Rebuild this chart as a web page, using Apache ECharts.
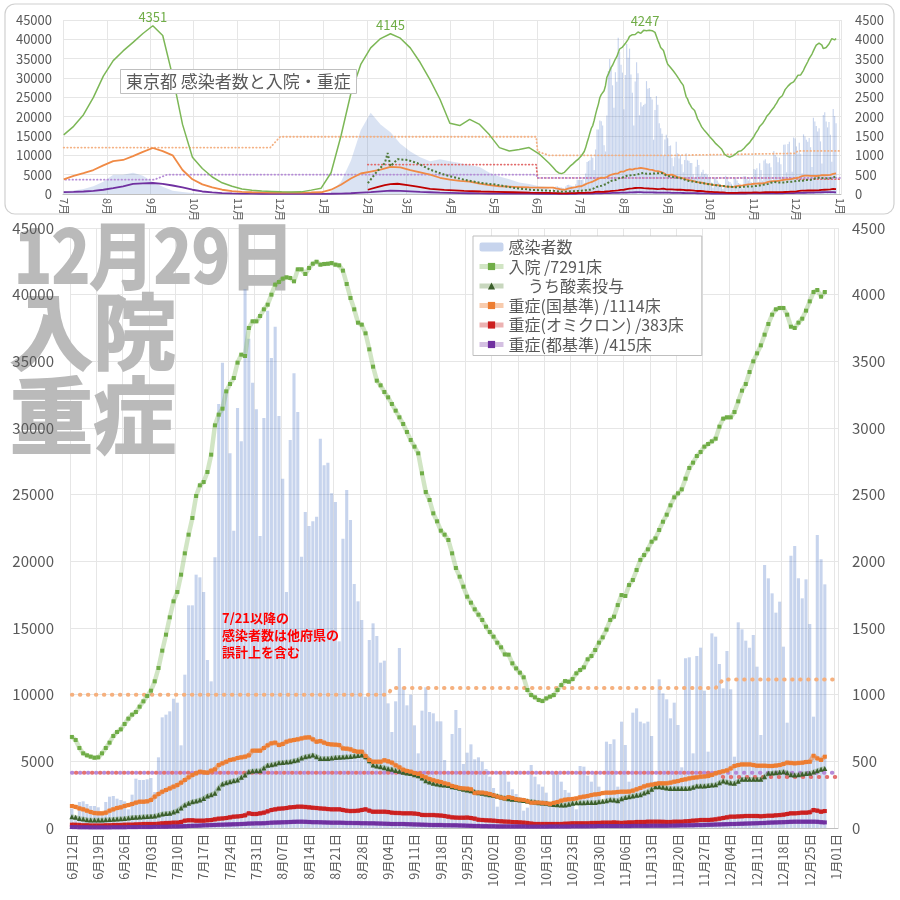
<!DOCTYPE html>
<html>
<head>
<meta charset="utf-8">
<script src="https://cdn.jsdelivr.net/npm/echarts@6/dist/echarts.min.js"></script>
<style>html,body{margin:0;background:#fff}#c{width:900px;height:900px}</style>
</head>
<body>
<div id="c"></div>
<script>
/* 東京都 感染者数と入院・重症 — main panel (daily from 2022-06-12) + inset overview since 2021-07 */
const FONT = '"Noto Sans CJK JP", "Noto Sans", sans-serif';
const TXT = '#595959';
const BIG = '#bababa';

// ---- main panel, one value per day from 6/12 ----
const cases = [
  1450, 900, 1950, 2000, 1800, 1650, 1650, 1550, 1000, 1950,
  2350, 2400, 2200, 2100, 2000, 1400, 2500, 3700, 3600, 3600,
  3650, 3750, 2700, 5300, 8300, 8500, 8750, 9700, 9400, 6200,
  11500, 16700, 16700, 19000, 18800, 17700, 12600, 11000, 20300, 31800,
  34900, 32700, 28100, 22300, 31500, 29000, 40400, 36700, 33400, 31400,
  21900, 30750, 38800, 35250, 37600, 30900, 26200, 17700, 29100, 34100,
  31200, 20350, 23700, 22650, 23000, 23350, 29200, 27200, 27400, 25100,
  24450, 14000, 21700, 25350, 23100, 18300, 17000, 15600, 9850, 14100,
  15350, 14400, 12400, 12550, 9350, 7200, 9500, 13500, 10550, 9200,
  10000, 7700, 5600, 8800, 10550, 8700, 8600, 8000, 8000, 5100,
  4100, 7050, 8850, 7500, 4800, 5650, 6275, 5150, 5300, 4975,
  4425, 3850, 3000, 1600, 4100, 4175, 3475, 2900, 2550, 2300,
  1300, 1525, 4725, 3850, 3275, 3100, 2650, 1800, 4150, 4100,
  3475, 2850, 2650, 2200, 1400, 4650, 4600, 3925, 3475, 4100,
  3100, 1900, 6475, 6300, 6650, 3100, 7975, 6225, 3475, 8650,
  8975, 7975, 7850, 7975, 6900, 3500, 11150, 10100, 9650, 8225,
  9400, 7725, 4550, 12725, 12800, 5600, 12900, 13525, 10300, 5725,
  14600, 14350, 12300, 10475, 13275, 10400, 5350, 15425, 14900, 14050,
  13525, 14475, 12100, 6975, 19725, 18725, 17600, 16150, 16975, 13600,
  7900, 20425, 21150, 18725, 17225, 18650, 15300, 8350, 21975, 20150,
  18275
];
const hosp = [
  683, 660, 600, 560, 545, 535, 527, 530, 560, 600,
  640, 690, 720, 740, 780, 820, 850, 870, 910, 950,
  990, 1030, 1100, 1200, 1330, 1450, 1580, 1700, 1770, 1900,
  2060, 2200, 2325, 2490, 2570, 2595, 2670, 2800, 3020, 3100,
  3145, 3275, 3330, 3375, 3490, 3550, 3540, 3750, 3800, 3800,
  3840, 3890, 3925, 4000, 4075, 4095, 4120, 4130, 4125, 4100,
  4190, 4190, 4155, 4200, 4232, 4247, 4225, 4230, 4232, 4237,
  4225, 4220, 4180, 4080, 3975, 3890, 3790, 3775, 3710, 3590,
  3460, 3355, 3320, 3270, 3230, 3180, 3130, 3080, 3030, 2970,
  2910, 2860, 2810, 2660, 2520, 2460, 2360, 2300, 2230, 2200,
  2160, 2060, 1950, 1885, 1810, 1735, 1690, 1640, 1600, 1560,
  1510, 1470, 1435, 1390, 1355, 1302, 1300, 1235, 1197, 1165,
  1130, 1035, 997, 980, 960, 952, 972, 985, 997, 1035,
  1072, 1102, 1097, 1117, 1160, 1185, 1205, 1265, 1290, 1335,
  1390, 1430, 1488, 1560, 1585, 1672, 1747, 1740, 1822, 1860,
  1935, 2010, 2047, 2090, 2147, 2172, 2235, 2297, 2350, 2420,
  2480, 2510, 2540, 2620, 2700, 2740, 2790, 2820, 2860, 2880,
  2900, 2920, 3010, 3070, 3080, 3080, 3120, 3200, 3280, 3330,
  3420, 3500, 3560, 3620, 3700, 3780, 3850, 3890, 3900, 3900,
  3850, 3760, 3750, 3790, 3820, 3880, 3950, 4020, 4035, 3985,
  4020
];
const oxygen = [
  85, 80, 72, 68, 62, 60, 60, 60, 60, 62,
  64, 65, 68, 70, 72, 75, 78, 80, 82, 85,
  87, 88, 90, 97, 105, 108, 110, 120, 130, 150,
  172, 185, 197, 202, 210, 222, 240, 250, 260, 300,
  330, 340, 347, 355, 360, 380, 397, 422, 428, 430,
  430, 450, 470, 475, 480, 490, 492, 495, 497, 505,
  510, 525, 535, 540, 547, 535, 522, 522, 522, 525,
  528, 530, 532, 535, 537, 540, 543, 547, 535, 505,
  472, 465, 460, 452, 445, 440, 432, 425, 418, 412,
  408, 400, 392, 375, 355, 345, 335, 330, 325, 322,
  318, 310, 305, 298, 290, 285, 280, 272, 265, 260,
  255, 250, 245, 240, 232, 225, 220, 216, 213, 210,
  207, 203, 198, 195, 190, 188, 185, 180, 177, 174,
  172, 172, 178, 185, 190, 190, 190, 191, 192, 192,
  196, 200, 205, 212, 210, 205, 220, 228, 235, 240,
  245, 250, 262, 272, 290, 310, 310, 305, 300, 297,
  297, 297, 297, 297, 298, 305, 315, 315, 315, 318,
  322, 325, 340, 352, 345, 338, 335, 350, 365, 365,
  365, 365, 365, 365, 385, 410, 412, 415, 418, 422,
  415, 400, 397, 400, 405, 408, 410, 420, 430, 440,
  447
];
const severeNat = [
  165, 158, 147, 140, 130, 120, 112, 110, 110, 115,
  130, 140, 150, 155, 165, 172, 180, 190, 197, 197,
  200, 210, 235, 255, 272, 285, 297, 310, 322, 340,
  360, 380, 397, 410, 422, 418, 415, 430, 440, 472,
  485, 497, 510, 515, 525, 530, 535, 545, 580, 580,
  580, 600, 620, 635, 640, 622, 630, 647, 655, 660,
  665, 672, 678, 680, 665, 647, 652, 640, 630, 627,
  625, 622, 597, 595, 590, 578, 572, 572, 540, 510,
  497, 497, 497, 508, 500, 490, 470, 455, 437, 428,
  422, 412, 405, 390, 380, 367, 358, 350, 345, 335,
  328, 315, 308, 300, 297, 295, 290, 262, 265, 265,
  260, 255, 245, 235, 228, 222, 232, 225, 215, 212,
  210, 200, 190, 190, 190, 188, 185, 180, 188, 195,
  205, 212, 215, 218, 222, 230, 235, 240, 247, 252,
  255, 262, 265, 265, 267, 270, 272, 272, 273, 280,
  290, 300, 312, 320, 325, 330, 335, 335, 335, 340,
  347, 352, 360, 365, 372, 377, 380, 385, 387, 390,
  398, 410, 418, 425, 432, 447, 465, 472, 477, 477,
  477, 472, 467, 467, 467, 465, 465, 468, 472, 480,
  490, 488, 485, 488, 490, 495, 497, 542, 522, 510,
  535
];
const severeOmi = [
  25, 24, 22, 20, 20, 18, 18, 18, 18, 20,
  20, 22, 22, 22, 24, 25, 25, 27, 28, 30,
  30, 30, 30, 32, 35, 37, 38, 40, 40, 45,
  55, 58, 58, 55, 55, 55, 58, 60, 65, 70,
  72, 75, 80, 85, 87, 90, 95, 110, 105, 105,
  110, 115, 125, 135, 140, 145, 147, 150, 155, 157,
  160, 160, 158, 155, 152, 150, 147, 145, 142, 140,
  140, 140, 135, 130, 127, 128, 130, 135, 140, 130,
  122, 122, 122, 122, 120, 115, 113, 112, 110, 110,
  110, 108, 105, 98, 97, 97, 97, 95, 93, 90,
  85, 80, 78, 77, 77, 78, 75, 70, 62, 60,
  58, 57, 55, 52, 50, 48, 47, 45, 44, 42,
  40, 37, 33, 30, 30, 30, 30, 30, 30, 30,
  30, 32, 33, 35, 35, 35, 35, 35, 37, 38,
  38, 40, 40, 40, 42, 40, 38, 40, 42, 42,
  45, 45, 45, 47, 47, 47, 47, 46, 45, 45,
  47, 47, 47, 50, 52, 55, 57, 60, 60, 60,
  62, 65, 70, 75, 80, 85, 85, 87, 88, 90,
  90, 90, 90, 88, 90, 92, 92, 95, 97, 100,
  105, 110, 110, 112, 115, 115, 118, 135, 130, 122,
  127
];
const severeTokyo = [
  7, 7, 6, 6, 6, 5, 5, 5, 5, 5,
  5, 6, 6, 6, 6, 7, 7, 7, 8, 8,
  8, 8, 9, 9, 10, 10, 11, 12, 12, 13,
  14, 15, 16, 17, 18, 20, 21, 22, 23, 24,
  25, 26, 27, 28, 29, 30, 31, 33, 34, 35,
  35, 36, 38, 40, 41, 42, 43, 44, 45, 46,
  47, 47, 46, 45, 44, 44, 43, 42, 41, 40,
  40, 40, 39, 38, 38, 37, 37, 36, 36, 35,
  35, 34, 33, 32, 31, 30, 30, 30, 30, 29,
  28, 27, 26, 25, 24, 23, 22, 22, 22, 21,
  21, 20, 20, 19, 18, 17, 16, 15, 15, 14,
  14, 13, 13, 12, 12, 12, 12, 12, 12, 12,
  12, 11, 11, 11, 11, 11, 11, 12, 12, 12,
  12, 12, 12, 13, 13, 13, 13, 13, 14, 14,
  15, 15, 15, 15, 15, 15, 15, 15, 15, 16,
  16, 16, 16, 16, 17, 17, 17, 17, 17, 18,
  18, 19, 20, 20, 21, 21, 22, 22, 23, 24,
  25, 26, 27, 28, 29, 30, 30, 31, 32, 33,
  34, 35, 36, 37, 38, 40, 41, 42, 43, 44,
  45, 46, 47, 47, 47, 47, 47, 47, 46, 44,
  42
];

// bed counts (dotted lines), as breakpoints
const capNatDays = ['6月12日', '9月04日', '9月05日', '11月30日', '12月02日', '1月01日'];
const capNatVals = [1000, 1000, 1050, 1050, 1114, 1114];
const capOmiDays = ['6月12日', '11月30日', '12月02日', '1月01日'];
const capOmiVals = [415, 415, 383, 383];
const capTokyoDays = ['6月12日', '1月01日'];
const capTokyoVals = [415, 415];

// ---- inset: weekly readings (every Thursday from 2021-07-01 to 2022-06-09) ----
const preCases = [700, 900, 1300, 2000, 3200, 5000, 5000, 5500, 4700, 3100,
  1850, 830, 500, 250, 120, 60, 40, 30, 25, 25,
  30, 30, 30, 35, 40, 40, 80, 640, 3100, 8600,
  16500, 21000, 18000, 16000, 13000, 11000, 9500, 8500, 9000, 8500,
  8000, 7500, 7000, 5500, 4500, 3800, 3000, 2600, 2000, 1800];
const preHosp = [1530, 1750, 2050, 2500, 3050, 3450, 3700, 3920, 4150, 4351,
  4100, 3050, 1800, 950, 660, 440, 290, 200, 130, 100,
  75, 65, 55, 50, 55, 100, 150, 550, 1500, 2600,
  3350, 3780, 4020, 4145, 4030, 3780, 3400, 2950, 2450, 1830,
  1770, 1930, 1800, 1530, 1200, 1110, 1150, 1200, 1040, 800];
const preNat = [380, 470, 540, 620, 740, 850, 880, 980, 1090, 1190,
  1110, 1000, 620, 380, 250, 170, 110, 75, 55, 45,
  40, 38, 35, 35, 38, 40, 45, 110, 240, 400,
  530, 580, 630, 700, 690, 620, 560, 500, 420, 370,
  340, 320, 270, 230, 200, 190, 180, 170, 165, 165];
const preTokyo = [50, 55, 65, 80, 110, 150, 200, 260, 275, 285,
  260, 220, 170, 110, 65, 40, 25, 15, 10, 8,
  6, 5, 4, 3, 3, 3, 4, 6, 12, 20,
  35, 50, 70, 85, 80, 70, 55, 45, 35, 30,
  25, 20, 15, 12, 10, 8, 8, 8, 7, 7];
const omiDates = ['2022-02-01', '2022-02-07', '2022-02-13', '2022-02-15', '2022-02-17', '2022-02-22',
  '2022-03-01', '2022-03-08', '2022-03-17', '2022-03-27', '2022-04-10', '2022-04-22',
  '2022-05-03', '2022-05-15', '2022-05-27', '2022-06-09'];
const preOxy = [280, 560, 800, 1060, 720, 900, 880, 800, 630, 500, 370, 285, 240, 160, 110, 85];
const preOmi = [110, 170, 230, 245, 255, 265, 230, 190, 135, 105, 80, 65, 55, 45, 35, 27];

const insetCapNatDates = ['2021-07-01', '2021-11-24', '2021-12-01', '2022-05-31', '2022-06-01', '2022-06-09',
  '2022-09-04', '2022-09-05', '2022-11-30', '2022-12-02', '2023-01-01'];
const insetCapNatVals = [1200, 1200, 1480, 1480, 1100, 1000, 1000, 1050, 1050, 1114, 1114];
const insetCapTokyoDates = ['2021-07-01', '2021-09-03', '2021-09-12', '2022-05-31', '2022-06-01', '2023-01-01'];
const insetCapTokyoVals = [370, 370, 500, 500, 415, 415];
const insetCapOmiDates = ['2022-02-01', '2022-05-31', '2022-06-01', '2022-11-30', '2022-12-02', '2023-01-01'];
const insetCapOmiVals = [760, 760, 415, 415, 383, 383];
const peakDates = ['2021-09-02', '2022-02-17', '2022-08-16'];
const peakVals = [4351, 4145, 4247];

// ---- category axes ----
const DAY = 864e5;
const iso = t => new Date(t).toISOString().slice(0, 10);
const mainIso = [], mainLbl = [];
for (let i = 0; i < 204; i++) {
  const d = new Date(Date.UTC(2022, 5, 12) + i * DAY);
  mainIso.push(iso(d.getTime()));
  mainLbl.push((d.getUTCMonth() + 1) + '月' + String(d.getUTCDate()).padStart(2, '0') + '日');
}
const insetDays = [];
for (let t = Date.UTC(2021, 6, 1); t <= Date.UTC(2023, 0, 1); t += DAY) insetDays.push(iso(t));
const weekDates = preHosp.map((_, k) => iso(Date.UTC(2021, 6, 1) + k * 7 * DAY));
const ix = d => insetDays.indexOf(d);
const mx = d => mainLbl.indexOf(d);
const pairs = (dates, vals, f) => dates.map((d, k) => [f(d), vals[k]]);
const mainToInset = vals => vals.map((v, i) => [ix(mainIso[i]), v]);
const isMonthStart = (i, v) => v.slice(8) === '01';
const plain = v => String(v);

const dots = (color, w, dash) => ({ color, width: w, type: dash, cap: 'round' });
const mainLine = (name, data, band, mark, sym, size) => ({
  name, type: 'line', xAxisIndex: 1, yAxisIndex: 3, data,
  symbol: sym || 'rect', symbolSize: size || 4, showAllSymbol: true,
  lineStyle: { color: band, width: 4.5 }, itemStyle: { color: mark }
});
const insetLine = (name, data, color, w, type) => ({
  name, type: 'line', xAxisIndex: 0, yAxisIndex: 1, data, symbol: 'none',
  lineStyle: { color, width: w, type: type || 'solid' }
});
const bigText = (text, x, y, size, sx) => ({
  type: 'text', x, y, z: 1, silent: true, scaleX: sx || 1,
  style: { text, font: 'bold ' + size + 'px ' + FONT, fill: BIG, stroke: BIG, lineWidth: 2,
    lineJoin: 'round', align: 'left', verticalAlign: 'top' }
});
const legendLine = (name, color) => ({ name, lineStyle: { width: 5, color } });

const chart = echarts.init(document.getElementById('c'));
chart.setOption({
  animation: false,
  textStyle: { fontFamily: FONT },
  title: {
    text: '東京都 感染者数と入院・重症', left: 120, top: 69, padding: [4, 6],
    borderColor: '#bfbfbf', borderWidth: 1, backgroundColor: '#fff',
    textStyle: { fontSize: 17, fontWeight: 'normal', color: TXT, fontFamily: FONT }
  },
  legend: {
    data: [
      { name: '感染者数' },
      legendLine('入院 /7291床', 'rgba(112,173,71,0.32)'),
      legendLine('\u3000 うち酸素投与', 'rgba(84,130,53,0.32)'),
      legendLine('重症(国基準) /1114床', 'rgba(237,125,49,0.4)'),
      legendLine('重症(オミクロン) /383床', 'rgba(192,0,0,0.3)'),
      legendLine('重症(都基準) /415床', 'rgba(112,48,160,0.3)')
    ],
    orient: 'vertical', left: 473, top: 236, itemGap: 3.5, itemWidth: 24, itemHeight: 9,
    padding: [3, 18, 3, 4], backgroundColor: '#fff', borderColor: '#bfbfbf', borderWidth: 1,
    textStyle: { fontSize: 16, color: TXT, fontFamily: FONT }
  },
  grid: [
    { left: 63, right: 59, top: 20, height: 174 },
    { left: 70, right: 62, top: 228, height: 600 }
  ],
  xAxis: [
    {
      gridIndex: 0, type: 'category', data: insetDays,
      axisLine: { lineStyle: { color: '#bfbfbf' } },
      axisTick: { interval: isMonthStart, length: 4, lineStyle: { color: '#bfbfbf' } },
      splitLine: { show: true, interval: isMonthStart, lineStyle: { color: '#e6e6e6' } },
      axisLabel: { interval: isMonthStart, rotate: -90, fontSize: 11, color: TXT, margin: 4,
        formatter: v => (+v.slice(5, 7)) + '月' }
    },
    {
      gridIndex: 1, type: 'category', data: mainLbl,
      axisLine: { lineStyle: { color: '#bfbfbf' } },
      axisTick: { interval: 6, length: 5, lineStyle: { color: '#bfbfbf' } },
      splitLine: { show: true, interval: 6, lineStyle: { color: '#e6e6e6' } },
      axisLabel: { interval: 6, rotate: 90, fontSize: 12.5, color: TXT, margin: 6 }
    }
  ],
  yAxis: [
    { gridIndex: 0, type: 'value', min: 0, max: 45000, interval: 5000,
      axisLabel: { fontSize: 13, color: TXT, margin: 11, formatter: plain }, splitLine: { lineStyle: { color: '#e6e6e6' } } },
    { gridIndex: 0, type: 'value', min: 0, max: 4500, interval: 500, position: 'right',
      axisLabel: { fontSize: 13, color: TXT, margin: 14, formatter: plain }, splitLine: { show: false } },
    { gridIndex: 1, type: 'value', min: 0, max: 45000, interval: 5000, z: 3,
      axisLabel: { fontSize: 15, color: TXT, margin: 16, formatter: plain }, splitLine: { show: false } },
    { gridIndex: 1, type: 'value', min: 0, max: 4500, interval: 500, position: 'right',
      axisLabel: { fontSize: 15, color: TXT, margin: 14, formatter: plain }, splitLine: { lineStyle: { color: '#e6e6e6' } } }
  ],
  graphic: [
    { type: 'rect', shape: { x: 5, y: 4, width: 889, height: 210, r: 10 }, silent: true, z: 0,
      style: { fill: 'none', stroke: '#d0d0d0', lineWidth: 1.2 } },
    bigText('12月29日', 14, 219, 73, 0.88),
    bigText('入院', 10, 290, 83),
    bigText('重症', 10, 374, 83),
    { type: 'text', left: 222, top: 610, z: 10, silent: true,
      style: { text: '7/21以降の\n感染者数は他府県の\n誤計上を含む', font: 'bold 13px ' + FONT, fill: '#ff0000', lineHeight: 17 } }
  ],
  series: [
    // inset
    { name: 'inset-cases-area', type: 'line', xAxisIndex: 0, yAxisIndex: 0, symbol: 'none',
      data: pairs(weekDates, preCases, ix), lineStyle: { width: 0 }, areaStyle: { color: 'rgba(68,114,196,0.28)' } },
    { name: 'inset-cases', type: 'bar', xAxisIndex: 0, yAxisIndex: 0, barCategoryGap: '20%',
      data: mainToInset(cases), itemStyle: { color: 'rgba(68,114,196,0.3)' } },
    { name: 'inset-capnat', type: 'line', xAxisIndex: 0, yAxisIndex: 1, symbol: 'none',
      data: pairs(insetCapNatDates, insetCapNatVals, ix), lineStyle: dots('#f4b183', 1.8, [0.5, 3]) },
    { name: 'inset-capomi', type: 'line', xAxisIndex: 0, yAxisIndex: 1, symbol: 'none',
      data: pairs(insetCapOmiDates, insetCapOmiVals, ix), lineStyle: dots('#e26b6b', 1.8, [0.5, 3]) },
    { name: 'inset-captokyo', type: 'line', xAxisIndex: 0, yAxisIndex: 1, symbol: 'none',
      data: pairs(insetCapTokyoDates, insetCapTokyoVals, ix), lineStyle: { ...dots('#b48ad6', 1.8, [0.5, 3]), dashOffset: 1.7 } },
    insetLine('inset-tokyo', pairs(weekDates, preTokyo, ix).concat(mainToInset(severeTokyo)), '#7030a0', 1.8),
    insetLine('inset-omi', pairs(omiDates, preOmi, ix).concat(mainToInset(severeOmi)), '#c00000', 1.8),
    insetLine('inset-nat', pairs(weekDates, preNat, ix).concat(mainToInset(severeNat)), '#f08a45', 1.8),
    insetLine('inset-oxy', pairs(omiDates, preOxy, ix).concat(mainToInset(oxygen)), '#4f7a38', 2, 'dotted'),
    Object.assign(insetLine('inset-hosp', pairs(weekDates, preHosp, ix).concat(mainToInset(hosp)), '#7cb756', 1.5), {
      markPoint: {
        symbol: 'circle', symbolSize: 0,
        label: { show: true, position: 'top', distance: 2, color: '#70ad47', fontSize: 13, formatter: p => p.value },
        data: peakDates.map((d, k) => ({ coord: [ix(d), peakVals[k]], value: peakVals[k] }))
      }
    }),
    // main
    { name: '感染者数', type: 'bar', xAxisIndex: 1, yAxisIndex: 2, barCategoryGap: '18%',
      data: cases, itemStyle: { color: 'rgba(68,114,196,0.3)' } },
    { name: 'cap-nat', type: 'line', xAxisIndex: 1, yAxisIndex: 3, symbol: 'none',
      data: pairs(capNatDays, capNatVals, mx), lineStyle: dots('#f5b07e', 4, [0.5, 7.5]) },
    { name: 'cap-tokyo', type: 'line', xAxisIndex: 1, yAxisIndex: 3, symbol: 'none',
      data: pairs(capTokyoDays, capTokyoVals, mx), lineStyle: dots('#b58ad8', 4, [0.5, 7.5]) },
    { name: 'cap-omi', type: 'line', xAxisIndex: 1, yAxisIndex: 3, symbol: 'none',
      data: pairs(capOmiDays, capOmiVals, mx), lineStyle: { ...dots('#e37272', 4, [0.5, 7.5]), dashOffset: 4 } },
    mainLine('入院 /7291床', hosp, 'rgba(112,173,71,0.32)', '#70ad47'),
    mainLine('\u3000 うち酸素投与', oxygen, 'rgba(84,130,53,0.32)', '#3b5f2b', 'triangle', 5),
    mainLine('重症(国基準) /1114床', severeNat, 'rgba(237,125,49,0.5)', '#ed7d31'),
    mainLine('重症(オミクロン) /383床', severeOmi, 'rgba(192,0,0,0.42)', '#cc1f1f'),
    mainLine('重症(都基準) /415床', severeTokyo, 'rgba(112,48,160,0.42)', '#7030a0')
  ]
});
</script>
</body>
</html>
